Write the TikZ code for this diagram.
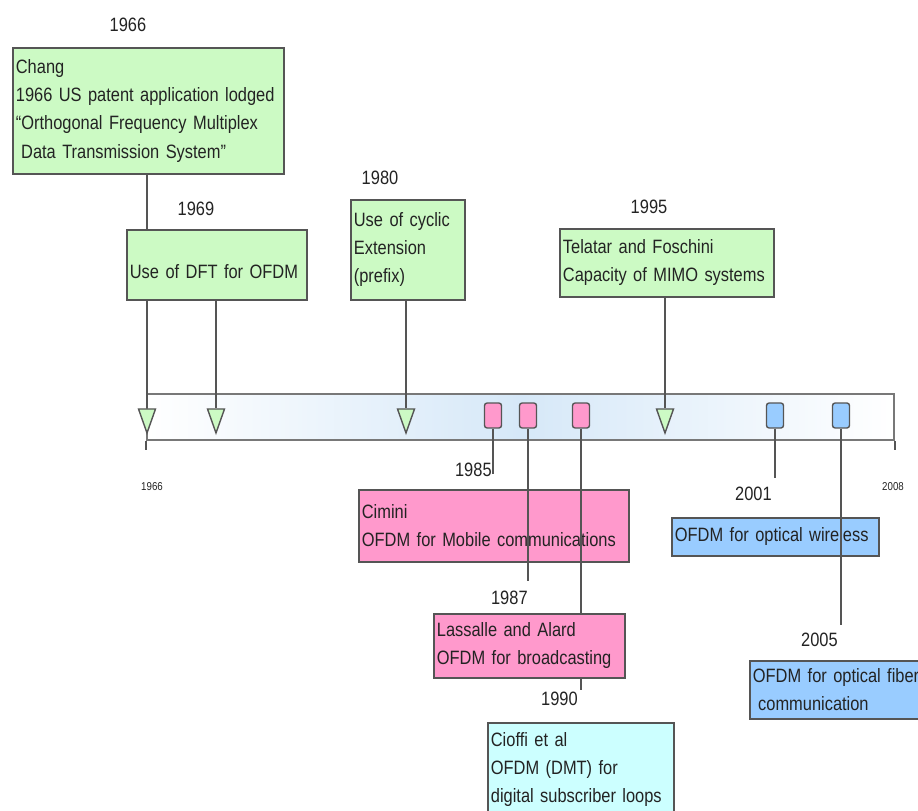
\documentclass[tikz,border=0pt]{standalone}
\usepackage{fontspec}
\setmainfont{Liberation Sans}[FakeStretch=0.85, WordSpace=0.85]
\usetikzlibrary{positioning, shapes.geometric}

\definecolor{evgreen}{RGB}{204,250,196}
\definecolor{evpink}{RGB}{255,153,204}
\definecolor{evblue}{RGB}{153,204,255}
\definecolor{evcyan}{RGB}{204,255,255}
\definecolor{evline}{RGB}{85,85,85}
\definecolor{evtext}{RGB}{35,35,35}
\definecolor{axisblue}{RGB}{214,232,248}
\definecolor{axisgray}{RGB}{120,120,120}

\begin{document}
\begin{tikzpicture}[x=0.02cm, y=-0.02cm,
    event/.style={rectangle, draw=evline, line width=1pt, anchor=north west, align=left,
        inner xsep=0.06cm, inner ysep=0pt, text=evtext, font=\fontsize{11}{16}\selectfont},
    year/.style={text=evtext, inner sep=0pt, font=\fontsize{11}{13}\selectfont},
    endyear/.style={text=evtext, inner sep=0pt, font=\fontsize{6.5}{8}\selectfont},
    tick/.style={draw=evline, line width=0.8pt},
    tri/.style={isosceles triangle, isosceles triangle stretches, shape border rotate=270,
        draw=evline, fill=evgreen, line width=0.8pt, inner sep=0pt,
        minimum width=0.34cm, minimum height=0.48cm},
    sq/.style={rectangle, rounded corners=1.5pt, draw=evline, line width=0.8pt, inner sep=0pt,
        minimum width=0.34cm, minimum height=0.5cm}
]
\clip (0,0) rectangle (918,810);

% time axis
\node[rectangle, draw=axisgray, line width=1.2pt, inner sep=0pt, anchor=north west,
    left color=white, right color=white, middle color=axisblue,
    minimum width=14.94cm, minimum height=0.92cm] (axis) at (146,393) {};
\draw[tick] (axis.south west) -- ++(0,9);
\draw[tick] (axis.south east) -- ++(0,9);
\node[endyear] (start) at (152,487) {1966};
\node[endyear] (stop) at (893,487) {2008};

% markers
\foreach \yr/\x in {66/147, 69/216, 80/406, 95/665}
    \node[tri] (tri\yr) at (\x,415) {};
\foreach \yr/\x in {85/493, 87/528, 90/581}
    \node[sq, fill=evpink] (sq\yr) at (\x,415.5) {};
\foreach \yr/\x in {01/775, 05/841}
    \node[sq, fill=evblue] (sq\yr) at (\x,415.5) {};

% above the axis
\node[year] (y66) at (128,25) {1966};
\node[event, fill=evgreen, text width=5.3cm, minimum height=2.52cm] (chang) at (12,47)
    {Chang\\1966 US patent application lodged\\“Orthogonal Frequency Multiplex\\\hspace*{3pt}Data Transmission System”};
\draw[tick] (chang.south -| tri66.north) -- (tri66.north);

\node[year] (y69) at (196,209) {1969};
\node[event, fill=evgreen, text width=3.48cm, minimum height=1.4cm] (dft) at (126,229)
    {\mbox{}\\Use of DFT for OFDM};

\node[year] (y80) at (380,178) {1980};
\node[event, fill=evgreen, text width=2.16cm, minimum height=2.0cm] (cyclic) at (350,199)
    {Use of cyclic\\Extension\\(prefix)};

\node[year] (y95) at (649,207) {1995};
\node[event, fill=evgreen, text width=4.16cm, minimum height=1.36cm] (mimo) at (559,228)
    {Telatar and Foschini\\Capacity of MIMO systems};

\draw[tick] (dft.south -| tri69.north) -- (tri69.north);
\draw[tick] (cyclic.south -| tri80.north) -- (tri80.north);
\draw[tick] (mimo.south -| tri95.north) -- (tri95.north);

% below the axis
\node[event, fill=evpink, text width=5.28cm, minimum height=1.44cm] (cimini) at (358,489)
    {Cimini\\OFDM for Mobile communications};
\node[event, fill=evblue, text width=4.02cm, minimum height=0.76cm] (wireless) at (671,517)
    {OFDM for optical wireless};

\coordinate (e85) at (493,474);
\coordinate (e87) at (528,581);
\coordinate (e90) at (581,690);
\coordinate (e01) at (775,478);
\coordinate (e05) at (841,625);

\draw[tick] (sq85.south) -- (e85);
\draw[tick] (sq87.south) -- (e87);
\draw[tick] (sq90.south) -- (e90);
\draw[tick] (sq01.south) -- (e01);
\draw[tick] (sq05.south) -- (e05);

\node[year, anchor=south east, xshift=-0.02cm, yshift=-0.06cm] (y85) at (e85) {1985};
\node[year, below left=0.2cm and 0cm of e87] (y87) {1987};
\node[year, below left=0.04cm and 0.06cm of e90] (y90) {1990};
\node[year, below left=0.18cm and 0.06cm of e01] (y01) {2001};
\node[year, below left=0.16cm and 0.06cm of e05] (y05) {2005};

\node[event, fill=evpink, text width=3.70cm, minimum height=1.28cm] (lassalle) at (433,613)
    {Lassalle and Alard\\OFDM for broadcasting};
\node[event, fill=evcyan, text width=3.60cm, minimum height=1.86cm] (cioffi) at (487,722)
    {Cioffi et al\\OFDM (DMT) for\\digital subscriber loops};
\node[event, fill=evblue, text width=3.68cm, minimum height=1.16cm] (fiber) at (749,660)
    {OFDM for optical fiber\\\hspace*{3pt}communication};

\end{tikzpicture}
\end{document}
